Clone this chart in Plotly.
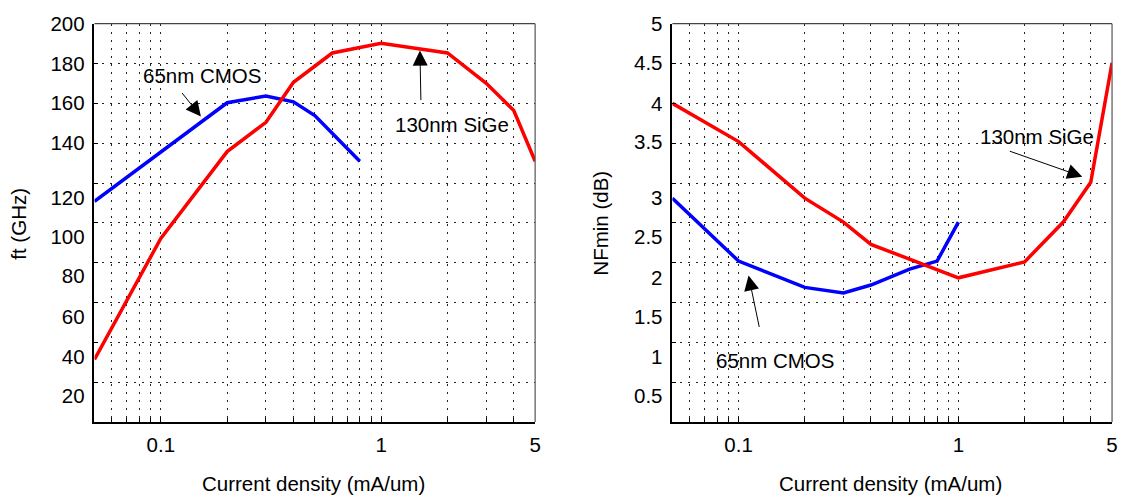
import plotly.graph_objects as go
import math

# ---- data ----
x_ft_cmos = [0.05, 0.1, 0.2, 0.3, 0.4, 0.5, 0.8]
ft_cmos = [110.8, 135.8, 160.3, 163.7, 160.8, 153.9, 130.9]

x_ft_sige = [0.05, 0.1, 0.2, 0.3, 0.4, 0.6, 1, 2, 3, 4, 5]
ft_sige = [31.4, 92.2, 135.8, 150.5, 170.6, 185.3, 190.2, 185.3, 170.1, 156.4, 130.9]

x_nf_cmos = [0.05, 0.1, 0.2, 0.3, 0.4, 0.6, 0.8, 1]
nf_cmos = [2.81, 2.02, 1.69, 1.62, 1.72, 1.92, 2.02, 2.51]

x_nf_sige = [0.05, 0.1, 0.2, 0.3, 0.4, 1, 2, 3, 4, 5]
nf_sige = [4.0, 3.52, 2.81, 2.51, 2.23, 1.81, 2.01, 2.51, 3.01, 4.51]

x_tick_vals = [0.1, 1, 5]
x_tick_text = ["0.1", "1", "5"]
x_grid_vals = [0.06, 0.07, 0.08, 0.09, 0.2, 0.3, 0.4, 0.5, 0.6, 0.7, 0.8, 0.9, 2, 3, 4]

ft_label_pos = [200, 179.9, 160.3, 140.2, 112.7, 93.1, 73.5, 52.9, 32.8, 13.2]
ft_label_text = ["200", "180", "160", "140", "120", "100", "80", "60", "40", "20"]
ft_grid_vals = [20, 40, 60, 80, 100, 120, 140, 160, 180]

nf_label_pos = [5, 4.51, 4.0, 3.52, 2.82, 2.33, 1.81, 1.32, 0.82, 0.33]
nf_label_text = ["5", "4.5", "4", "3.5", "3", "2.5", "2", "1.5", "1", "0.5"]
nf_grid_vals = [0.5, 1, 1.5, 2, 2.5, 3, 3.5, 4, 4.5]

FONT = "Liberation Sans, Arial, sans-serif"
FS = 20.5
GRID = "#222222"
DASH = "2px,6px"

fig = go.Figure()
fig.add_trace(go.Scatter(x=x_ft_cmos, y=ft_cmos, mode="lines",
                         line=dict(color="#0000ff", width=3.5), xaxis="x", yaxis="y"))
fig.add_trace(go.Scatter(x=x_ft_sige, y=ft_sige, mode="lines",
                         line=dict(color="#ff0000", width=3.5), xaxis="x", yaxis="y"))
fig.add_trace(go.Scatter(x=x_nf_cmos, y=nf_cmos, mode="lines",
                         line=dict(color="#0000ff", width=3.5), xaxis="x2", yaxis="y2"))
fig.add_trace(go.Scatter(x=x_nf_sige, y=nf_sige, mode="lines",
                         line=dict(color="#ff0000", width=3.5), xaxis="x2", yaxis="y2"))

W, H = 1127, 504
ydom = [(H - 420) / H, (H - 12) / H]


def xaxis_cfg(dom, anchor):
    return dict(
        type="log", domain=dom, anchor=anchor,
        range=[math.log10(0.05), math.log10(5)],
        tickvals=x_tick_vals, ticktext=x_tick_text,
        ticks="inside", ticklen=5, tickcolor="black", tickwidth=1,
        showgrid=True, gridcolor=GRID, griddash=DASH, gridwidth=1,
        minor=dict(tickvals=x_grid_vals, ticks="inside", ticklen=4,
                   tickcolor="black", showgrid=True, gridcolor=GRID,
                   griddash=DASH, gridwidth=1),
        showline=True, linecolor="black", linewidth=1.6,
        zeroline=False, tickfont=dict(family=FONT, size=FS, color="black"),
        ticklabelstandoff=4,
    )


def yaxis_cfg(anchor, rng, pos, txt, grid):
    return dict(
        domain=ydom, anchor=anchor, range=rng,
        tickvals=pos, ticktext=txt, ticks="", showgrid=False,
        minor=dict(tickvals=grid, ticks="inside", ticklen=4, tickcolor="black",
                   showgrid=True, gridcolor=GRID, griddash=DASH, gridwidth=1),
        showline=True, linecolor="black", linewidth=1.6, zeroline=False,
        tickfont=dict(family=FONT, size=FS, color="black"),
        ticklabelstandoff=4,
    )


fig.update_layout(
    width=W, height=H,
    margin=dict(l=0, r=0, t=0, b=0),
    paper_bgcolor="white", plot_bgcolor="white",
    showlegend=False,
    xaxis=xaxis_cfg([95 / W, 538 / W], "y"),
    yaxis=yaxis_cfg("x", [0, 200], ft_label_pos, ft_label_text, ft_grid_vals),
    xaxis2=xaxis_cfg([676 / W, 1118 / W], "y2"),
    yaxis2=yaxis_cfg("x2", [0, 5], nf_label_pos, nf_label_text, nf_grid_vals),
)

# box top/right edges
for xr, yr in (("x domain", "y domain"), ("x2 domain", "y2 domain")):
    fig.add_shape(type="line", xref=xr, yref=yr, x0=0, x1=1, y0=1, y1=1,
                  line=dict(color="#444444", width=1.2))
    fig.add_shape(type="line", xref=xr, yref=yr, x0=1, x1=1, y0=0, y1=1,
                  line=dict(color="#555555", width=1.2))

tf = dict(family=FONT, size=FS, color="black")

# arrows
arrows = [
    ("x", "y", 0.152, 153.4, -20, -25),
    ("x", "y", 1.50, 186.5, 1, 51),
    ("x2", "y2", 0.111, 1.84, 11, 53),
    ("x2", "y2", 3.66, 3.08, -74, -26),
]
for xr, yr, x, y, ax, ay in arrows:
    fig.add_annotation(xref=xr, yref=yr, x=math.log10(x), y=y, text="",
                       showarrow=True, arrowhead=2, arrowsize=3, arrowwidth=1,
                       arrowcolor="black", ax=ax, ay=ay, standoff=0)

labels = [
    ("x", "y", 0.154, 174, "65nm CMOS"),
    ("x", "y", 2.09, 149.5, "130nm SiGe"),
    ("x2", "y2", 0.146, 0.77, "65nm CMOS"),
    ("x2", "y2", 2.27, 3.58, "130nm SiGe"),
]
for xr, yr, x, y, t in labels:
    fig.add_annotation(xref=xr, yref=yr, x=math.log10(x), y=y, text=t,
                       showarrow=False, font=tf, xanchor="center", yanchor="middle")

# axis titles
fig.add_annotation(xref="paper", yref="paper", x=19 / W, y=1 - 217 / H,
                   text="ft (GHz)", textangle=-90, showarrow=False, font=tf,
                   xanchor="center", yanchor="middle")
fig.add_annotation(xref="paper", yref="paper", x=604 / W, y=1 - 216 / H,
                   text="NFmin (dB)", textangle=-90, showarrow=False, font=tf,
                   xanchor="center", yanchor="middle")
fig.add_annotation(xref="paper", yref="paper", x=315 / W, y=1 - 483 / H,
                   text="Current density (mA/um)", showarrow=False, font=tf,
                   xanchor="center", yanchor="middle")
fig.add_annotation(xref="paper", yref="paper", x=895 / W, y=1 - 483 / H,
                   text="Current density (mA/um)", showarrow=False, font=tf,
                   xanchor="center", yanchor="middle")

fig.write_html("out.html")
